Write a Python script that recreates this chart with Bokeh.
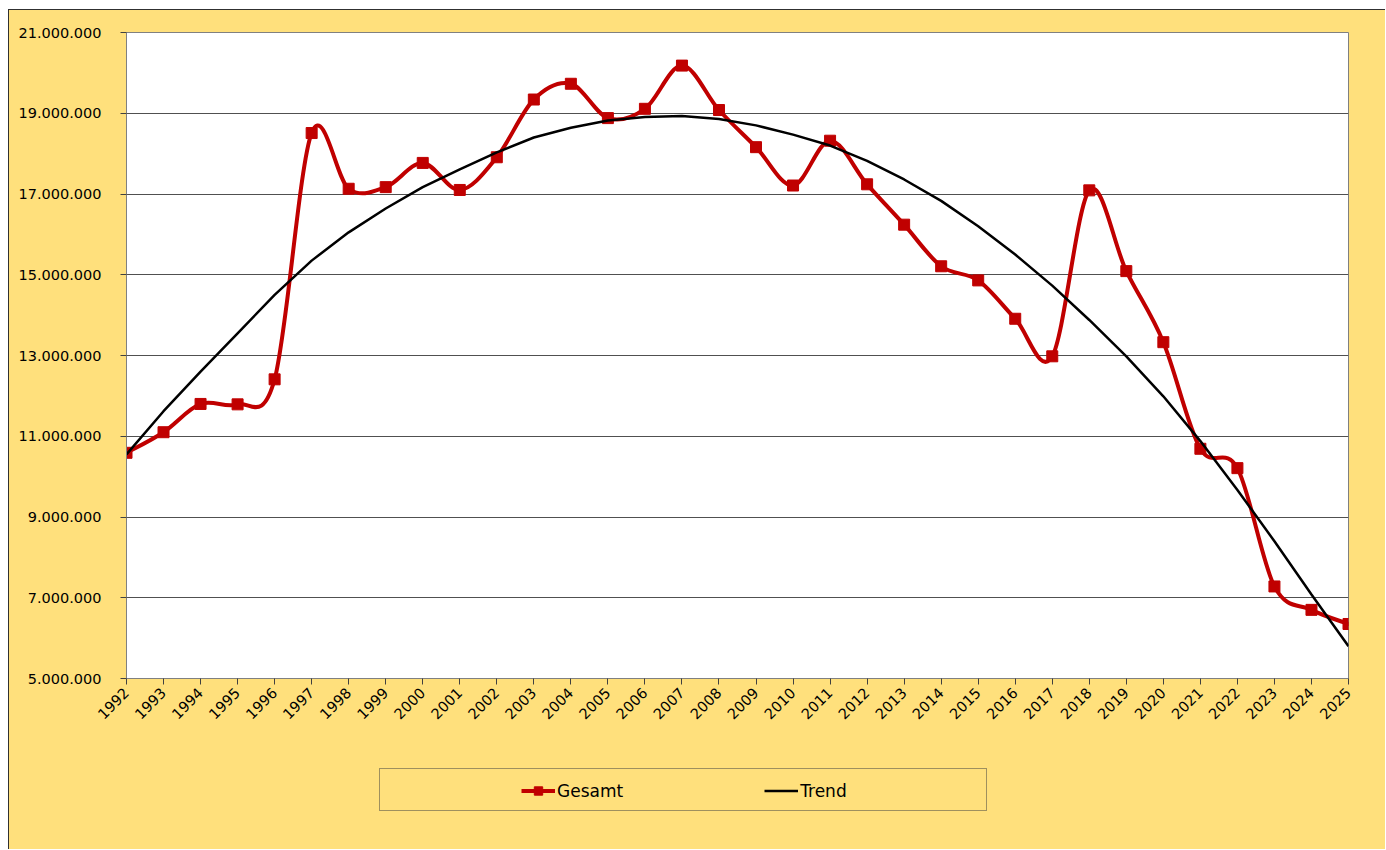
import math
from bokeh.plotting import figure
from bokeh.layouts import column, row
from bokeh.models import (Range1d, FixedTicker, Legend, LegendItem, Spacer,
                          ColumnDataSource)
from bokeh.embed import file_html
from bokeh.resources import INLINE

# ---------------- data ----------------
years = list(range(1992, 2026))
gesamt = [10590000, 11100000, 11800000, 11790000, 12410000, 18510000, 17130000,
          17170000, 17770000, 17100000, 17910000, 19340000, 19730000, 18880000,
          19110000, 20180000, 19080000, 18160000, 17210000, 18320000, 17240000,
          16240000, 15210000, 14860000, 13910000, 12980000, 17090000, 15090000,
          13330000, 10690000, 10210000, 7280000, 6700000, 6350000]
trend = [10550000, 11620000, 12600000, 13550000, 14500000, 15350000, 16050000,
         16640000, 17170000, 17610000, 18030000, 18400000, 18640000, 18820000,
         18910000, 18930000, 18860000, 18700000, 18470000, 18200000, 17820000,
         17360000, 16830000, 16200000, 15500000, 14730000, 13880000, 12980000,
         11990000, 10880000, 9670000, 8400000, 7080000, 5800000]
y_ticks = [5000000, 7000000, 9000000, 11000000, 13000000, 15000000, 17000000,
           19000000, 21000000]
y_tick_labels = ["5.000.000", "7.000.000", "9.000.000", "11.000.000", "13.000.000",
                 "15.000.000", "17.000.000", "19.000.000", "21.000.000"]
series_names = ["Gesamt", "Trend"]

# ---------------- style ----------------
BG = "#FFE07C"
RED = "#C00000"
FONT = "DejaVu Sans"

W = 1376          # width of the chart canvases
H1 = 750          # main chart canvas height
H2 = 89           # legend strip height

p = figure(width=W, height=H1, output_backend="svg", toolbar_location=None,
           x_range=Range1d(years[0], years[-1]),
           y_range=Range1d(y_ticks[0], y_ticks[-1]),
           min_border_left=117, min_border_right=37, min_border_top=22,
           min_border_bottom=H1 - 22 - 646)
p.background_fill_color = "white"
p.border_fill_color = BG
p.outline_line_color = "#808080"
p.outline_line_width = 1

# axes
p.xaxis.ticker = FixedTicker(ticks=years)
p.yaxis.ticker = FixedTicker(ticks=y_ticks)
p.yaxis.major_label_overrides = {t: l for t, l in zip(y_ticks, y_tick_labels)}
p.xaxis.major_label_orientation = math.pi / 4
for ax in (p.xaxis, p.yaxis):
    ax.axis_line_color = "#808080"
    ax.axis_line_width = 1
    ax.major_tick_line_color = "#404040"
    ax.major_tick_out = 6
    ax.major_tick_in = 0
    ax.minor_tick_line_color = None
    ax.major_label_text_font = FONT
    ax.major_label_text_font_size = "14.5px"
    ax.major_label_text_color = "black"
p.yaxis.major_label_standoff = 19
p.xaxis.major_label_standoff = 6

p.xgrid.grid_line_color = None
p.ygrid.grid_line_color = "#505050"
p.ygrid.grid_line_width = 1

# smooth curve for Gesamt (Catmull-Rom control points -> Bezier glyph)
n = len(years)
x0, y0, x1, y1, cx0, cy0, cx1, cy1 = ([] for _ in range(8))
for i in range(n - 1):
    pa = max(i - 1, 0)
    pd = min(i + 2, n - 1)
    x0.append(years[i]); y0.append(gesamt[i])
    x1.append(years[i + 1]); y1.append(gesamt[i + 1])
    cx0.append(years[i] + (years[i + 1] - years[pa]) / 6)
    cy0.append(gesamt[i] + (gesamt[i + 1] - gesamt[pa]) / 6)
    cx1.append(years[i + 1] - (years[pd] - years[i]) / 6)
    cy1.append(gesamt[i + 1] - (gesamt[pd] - gesamt[i]) / 6)
bez_src = ColumnDataSource(dict(x0=x0, y0=y0, x1=x1, y1=y1,
                                cx0=cx0, cy0=cy0, cx1=cx1, cy1=cy1))
p.bezier(x0="x0", y0="y0", x1="x1", y1="y1", cx0="cx0", cy0="cy0",
         cx1="cx1", cy1="cy1", source=bez_src, line_color=RED,
         line_width=4, line_cap="round")
p.scatter(years, gesamt, marker="square", size=11, fill_color=RED,
          line_color=RED, line_width=1)
p.line(years, trend, line_color="black", line_width=2.5)

# ---------------- legend strip ----------------
p2 = figure(width=W, height=H2, output_backend="svg", toolbar_location=None,
            x_range=Range1d(0, 1), y_range=Range1d(0, 1),
            x_axis_location=None, y_axis_location=None,
            min_border=0, min_border_left=0, min_border_right=0,
            min_border_top=0, min_border_bottom=0)
p2.grid.visible = False
p2.outline_line_color = None
p2.background_fill_color = BG
p2.border_fill_color = BG

# legend renderers: same series, but outside this strip's ranges (not visible)
lg_line = p2.line(years, gesamt, line_color=RED, line_width=4)
lg_sq = p2.scatter(years, gesamt, marker="square", size=10,
                   fill_color=RED, line_color=RED)
lg_tr = p2.line(years, trend, line_color="black", line_width=2.5)
lg_box = p2.line([], [], line_alpha=0)

# legend frame box (positions relative to the strip's frame, aligned with the plot frame)
box = Legend(items=[LegendItem(label="\u00a0", renderers=[lg_box])],
             location=(253, 38), padding=10, margin=0,
             glyph_width=20, glyph_height=21, label_height=21, label_standoff=5,
             label_width=561, label_text_alpha=0,
             border_line_color="#404040", border_line_width=1,
             background_fill_color=BG, background_fill_alpha=1)
p2.add_layout(box, "center")

legend = Legend(items=[LegendItem(label=series_names[0], renderers=[lg_line, lg_sq]),
                       LegendItem(label=series_names[1], renderers=[lg_tr])],
                orientation="horizontal", location=(395, 48),
                padding=0, margin=0, spacing=141, label_width=0,
                glyph_width=34, glyph_height=21, label_height=21,
                label_standoff=2,
                label_text_font=FONT, label_text_font_size="17px",
                label_text_color="black",
                border_line_alpha=0, background_fill_alpha=0)
p2.add_layout(legend, "center")

dark = "#303030"
layout = column(
    Spacer(width=1386, height=9),
    row(Spacer(width=8, height=H1 + H2 + 1),
        column(Spacer(width=W + 1, height=1, styles={"background-color": dark}),
               row(Spacer(width=1, height=H1 + H2, styles={"background-color": dark}),
                   column(p, p2, styles={"background-color": BG}),
                   styles={"background-color": BG}))))

open("out.html", "w").write(file_html(layout, INLINE))
